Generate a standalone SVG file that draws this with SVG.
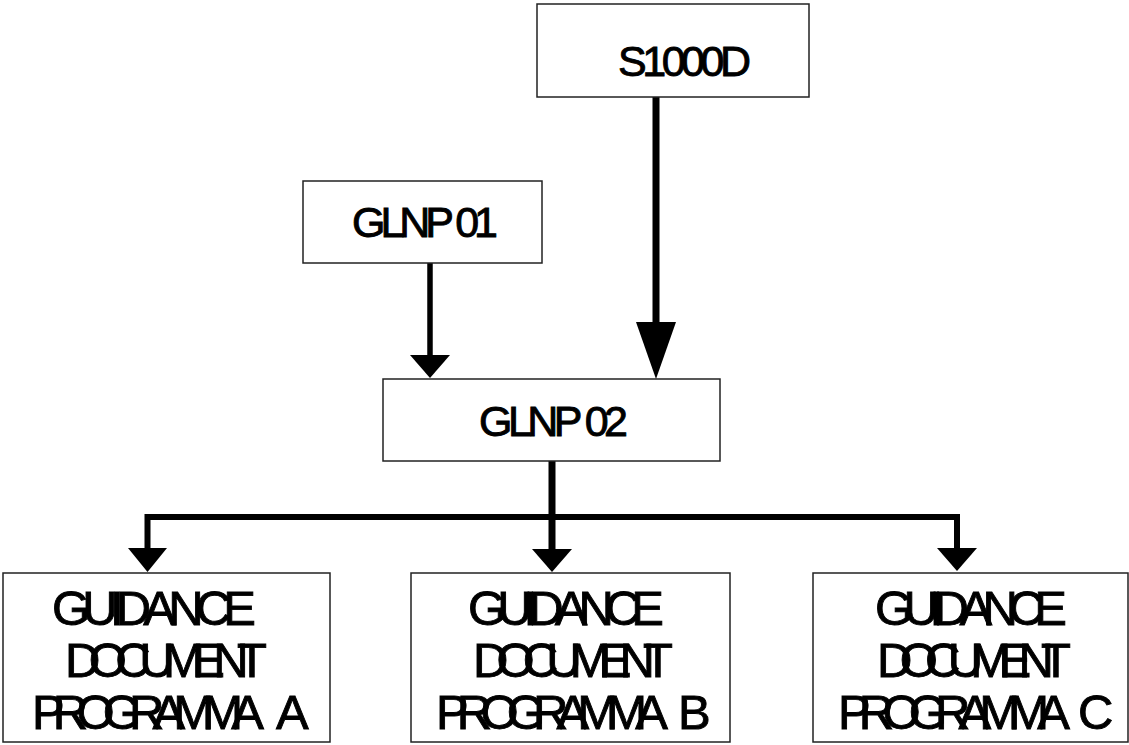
<svg xmlns="http://www.w3.org/2000/svg" width="1129" height="745" viewBox="0 0 1129 745">
  <style>
    .box { fill: #ffffff; stroke: #222222; stroke-width: 1.5; }
    .lbl { font-family: "Liberation Sans", Arial, sans-serif; fill: #000000; stroke: #000000; stroke-width: 0.9; }
    .top { font-size: 43px; }
    .doc { font-size: 49px; }
    .mid { text-anchor: middle; }
    .wire { fill: none; stroke: #000000; }
    .head { fill: #000000; stroke: none; }
  </style>
  <rect width="1129" height="745" fill="#ffffff"/>

  <g id="connectors">
    <!-- GLNP 01 down to GLNP 02 -->
    <line class="wire" x1="430" y1="263" x2="430" y2="357" stroke-width="5.5"/>
    <polygon class="head" points="410,355 450,355 430,378"/>
    <!-- S1000D down to GLNP 02 -->
    <line class="wire" x1="656" y1="97" x2="656" y2="324" stroke-width="7"/>
    <polygon class="head" points="636,322 676,322 656,379"/>
    <!-- GLNP 02 fan-out to the three guidance documents -->
    <line class="wire" x1="552" y1="461" x2="552" y2="551" stroke-width="7"/>
    <polyline class="wire" points="147.5,550 147.5,517 957,517 957,550" stroke-width="6" stroke-linejoin="miter"/>
    <polygon class="head" points="128,548 167,548 147.5,572"/>
    <polygon class="head" points="532,549 572,549 552,572"/>
    <polygon class="head" points="937,548 977,548 957,571"/>
  </g>

  <g id="s1000d">
    <rect class="box" x="537" y="4" width="272" height="93"/>
    <text class="lbl top" x="618" y="76" textLength="133" lengthAdjust="spacing">S1000D</text>
  </g>

  <g id="glnp01">
    <rect class="box" x="303" y="181" width="239" height="82"/>
    <text class="lbl top" x="352" y="237" textLength="146" lengthAdjust="spacing">GLNP 01</text>
  </g>

  <g id="glnp02">
    <rect class="box" x="383" y="379" width="337" height="82"/>
    <text class="lbl top" x="479" y="436" textLength="149" lengthAdjust="spacing">GLNP 02</text>
  </g>

  <g id="doc-a">
    <rect class="box" x="3" y="573" width="327" height="169"/>
    <text class="lbl doc mid" x="154" y="625" textLength="204" lengthAdjust="spacing">GUIDANCE</text>
    <text class="lbl doc mid" x="166" y="677" textLength="202" lengthAdjust="spacing">DOCUMENT</text>
    <text class="lbl doc" x="32" y="729" textLength="232" lengthAdjust="spacing">PROGRAMMA</text>
    <text class="lbl doc" x="276" y="729">A</text>
  </g>

  <g id="doc-b">
    <rect class="box" x="411" y="573" width="319" height="169"/>
    <text class="lbl doc mid" x="566" y="625" textLength="196" lengthAdjust="spacing">GUIDANCE</text>
    <text class="lbl doc mid" x="573" y="677" textLength="200" lengthAdjust="spacing">DOCUMENT</text>
    <text class="lbl doc" x="436" y="729" textLength="232" lengthAdjust="spacing">PROGRAMMA</text>
    <text class="lbl doc" x="678" y="729">B</text>
  </g>

  <g id="doc-c">
    <rect class="box" x="813" y="573" width="315" height="169"/>
    <text class="lbl doc mid" x="971" y="625" textLength="192" lengthAdjust="spacing">GUIDANCE</text>
    <text class="lbl doc mid" x="974" y="677" textLength="194" lengthAdjust="spacing">DOCUMENT</text>
    <text class="lbl doc" x="838" y="729" textLength="232" lengthAdjust="spacing">PROGRAMMA</text>
    <text class="lbl doc" x="1078" y="729">C</text>
  </g>
</svg>
